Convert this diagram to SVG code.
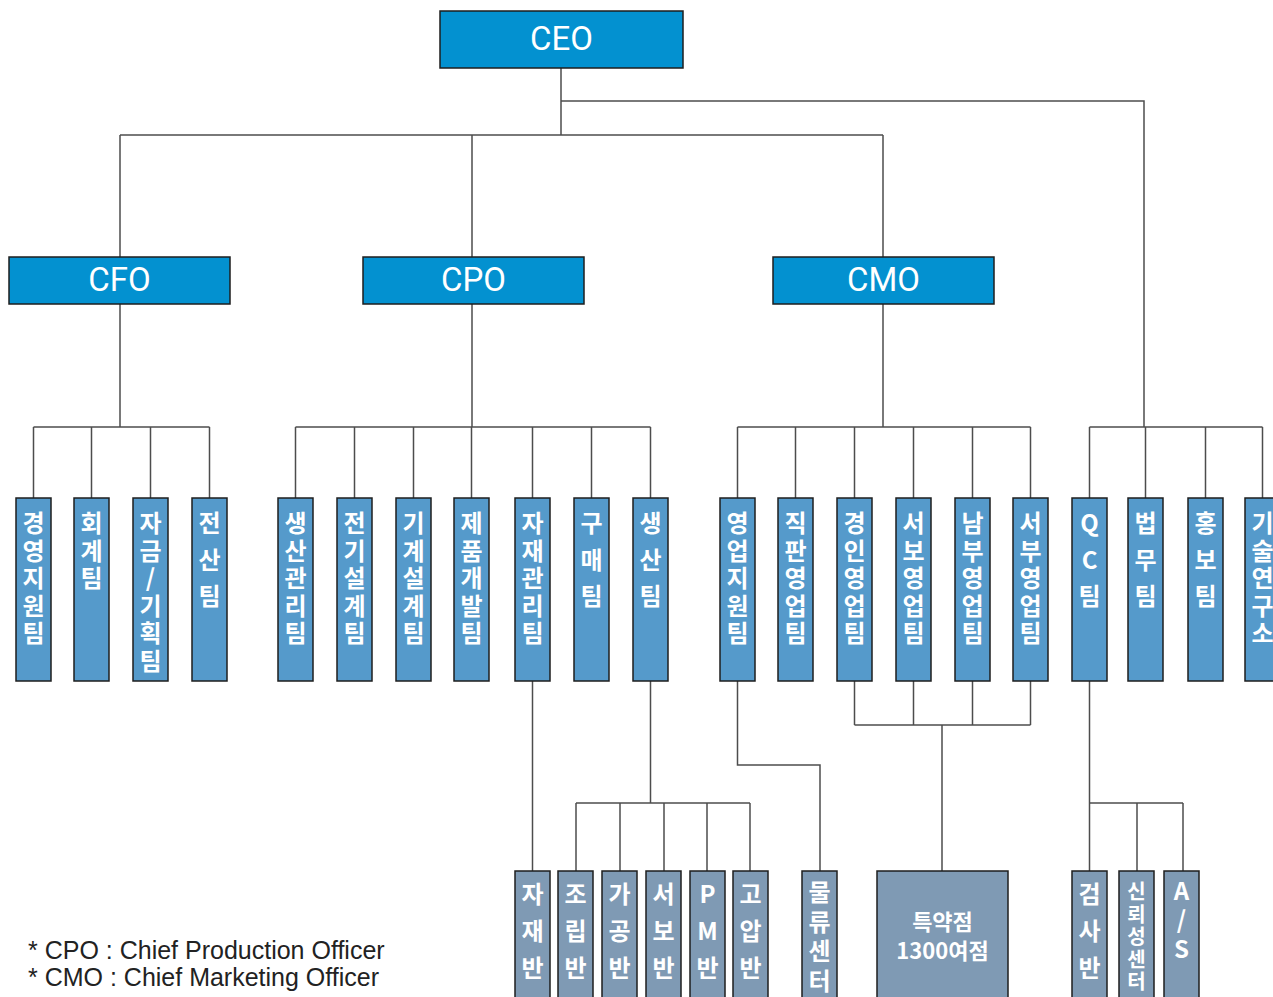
<svg xmlns="http://www.w3.org/2000/svg" width="1273" height="997" viewBox="0 0 1273 997">
<style>
.top{fill:#0391D0;stroke:#1e1e1e;stroke-width:1.5}
.team{fill:#559ACB;stroke:#1e1e1e;stroke-width:1.5}
.sub{fill:#7F9AB4;stroke:#1e1e1e;stroke-width:1.5}
.ht{font-family:Roboto,"Liberation Sans",sans-serif;font-size:33px;fill:#fff;text-anchor:middle}
.v{font-family:"Noto Sans CJK KR",sans-serif;font-weight:bold;font-size:24px;fill:#fff;text-anchor:middle}
.vs{font-family:"Noto Sans CJK KR",sans-serif;font-weight:bold;font-size:20px;fill:#fff;text-anchor:middle}
.sp{font-family:"Noto Sans CJK KR",sans-serif;font-weight:bold;font-size:22px;fill:#fff;text-anchor:middle}
.note{font-family:"Liberation Sans",Arial,sans-serif;font-size:25px;fill:#222}
#connectors path{fill:none;stroke:#4d4d4d;stroke-width:1.5}
</style>
<rect width="1273" height="997" fill="#fff"/>
<g id="connectors">
<path d="M561,68 V135 M561,101 H1144 V427 M120,135 H883 M120,135 V257 M472,135 V257 M883,135 V257"/>
<path d="M120,304 V427 M33.5,427 H209.5 M33.5,427 V498 M91.5,427 V498 M150.5,427 V498 M209.5,427 V498"/>
<path d="M472,304 V427 M295.5,427 H650.5 M295.5,427 V498 M354.5,427 V498 M413.5,427 V498 M471.5,427 V498 M532.5,427 V498 M591.5,427 V498 M650.5,427 V498"/>
<path d="M883,304 V427 M737.5,427 H1030.5 M737.5,427 V498 M795.5,427 V498 M854.5,427 V498 M913.5,427 V498 M972.5,427 V498 M1030.5,427 V498"/>
<path d="M1089.5,427 H1262.5 M1089.5,427 V498 M1145.5,427 V498 M1205.5,427 V498 M1262.5,427 V498"/>
<path d="M532.5,681 V871"/>
<path d="M650.5,681 V803 M576,803 H750 M576,803 V871 M620,803 V871 M664,803 V871 M707,803 V871 M750,803 V871"/>
<path d="M737.5,681 V765 H820 V871"/>
<path d="M854.5,681 V725 M913.5,681 V725 M972.5,681 V725 M1030.5,681 V725 M854.5,725 H1030.5 M942,725 V871"/>
<path d="M1089.5,681 V871 M1089.5,803 H1183 M1137,803 V871 M1183,803 V871"/>
</g>
<g id="ceo"><rect class="top" x="440" y="11" width="243" height="57"/><text class="ht" x="561.5" y="50">CEO</text></g>
<g id="cfo"><rect class="top" x="9" y="257" width="221" height="47"/><text class="ht" x="119.5" y="291">CFO</text></g>
<g id="cpo"><rect class="top" x="363" y="257" width="221" height="47"/><text class="ht" x="473.5" y="291">CPO</text></g>
<g id="cmo"><rect class="top" x="773" y="257" width="221" height="47"/><text class="ht" x="883.5" y="291">CMO</text></g>

<g id="t1"><rect class="team" x="16" y="498" width="35" height="183"/><text class="v" x="33.5 33.5 33.5 33.5 33.5" y="532 559.5 587 614.5 642">경영지원팀</text></g>
<g id="t2"><rect class="team" x="74" y="498" width="35" height="183"/><text class="v" x="91.5 91.5 91.5" y="532 559.5 587">회계팀</text></g>
<g id="t3"><rect class="team" x="133" y="498" width="35" height="183"/><text class="v" x="150.5 150.5 150.5 150.5 150.5 150.5" y="532 559.5 587 614.5 642 669.5">자금/기획팀</text></g>
<g id="t4"><rect class="team" x="192" y="498" width="35" height="183"/><text class="v" x="209.5 209.5 209.5" y="532 568.5 605">전산팀</text></g>
<g id="t5"><rect class="team" x="278" y="498" width="35" height="183"/><text class="v" x="295.5 295.5 295.5 295.5 295.5" y="532 559.5 587 614.5 642">생산관리팀</text></g>
<g id="t6"><rect class="team" x="337" y="498" width="35" height="183"/><text class="v" x="354.5 354.5 354.5 354.5 354.5" y="532 559.5 587 614.5 642">전기설계팀</text></g>
<g id="t7"><rect class="team" x="396" y="498" width="35" height="183"/><text class="v" x="413.5 413.5 413.5 413.5 413.5" y="532 559.5 587 614.5 642">기계설계팀</text></g>
<g id="t8"><rect class="team" x="454" y="498" width="35" height="183"/><text class="v" x="471.5 471.5 471.5 471.5 471.5" y="532 559.5 587 614.5 642">제품개발팀</text></g>
<g id="t9"><rect class="team" x="515" y="498" width="35" height="183"/><text class="v" x="532.5 532.5 532.5 532.5 532.5" y="532 559.5 587 614.5 642">자재관리팀</text></g>
<g id="t10"><rect class="team" x="574" y="498" width="35" height="183"/><text class="v" x="591.5 591.5 591.5" y="532 568.5 605">구매팀</text></g>
<g id="t11"><rect class="team" x="633" y="498" width="35" height="183"/><text class="v" x="650.5 650.5 650.5" y="532 568.5 605">생산팀</text></g>
<g id="t12"><rect class="team" x="720" y="498" width="35" height="183"/><text class="v" x="737.5 737.5 737.5 737.5 737.5" y="532 559.5 587 614.5 642">영업지원팀</text></g>
<g id="t13"><rect class="team" x="778" y="498" width="35" height="183"/><text class="v" x="795.5 795.5 795.5 795.5 795.5" y="532 559.5 587 614.5 642">직판영업팀</text></g>
<g id="t14"><rect class="team" x="837" y="498" width="35" height="183"/><text class="v" x="854.5 854.5 854.5 854.5 854.5" y="532 559.5 587 614.5 642">경인영업팀</text></g>
<g id="t15"><rect class="team" x="896" y="498" width="35" height="183"/><text class="v" x="913.5 913.5 913.5 913.5 913.5" y="532 559.5 587 614.5 642">서보영업팀</text></g>
<g id="t16"><rect class="team" x="955" y="498" width="35" height="183"/><text class="v" x="972.5 972.5 972.5 972.5 972.5" y="532 559.5 587 614.5 642">남부영업팀</text></g>
<g id="t17"><rect class="team" x="1013" y="498" width="35" height="183"/><text class="v" x="1030.5 1030.5 1030.5 1030.5 1030.5" y="532 559.5 587 614.5 642">서부영업팀</text></g>
<g id="t18"><rect class="team" x="1072" y="498" width="35" height="183"/><text class="v" x="1089.5 1089.5 1089.5" y="532 568.5 605">QC팀</text></g>
<g id="t19"><rect class="team" x="1128" y="498" width="35" height="183"/><text class="v" x="1145.5 1145.5 1145.5" y="532 568.5 605">법무팀</text></g>
<g id="t20"><rect class="team" x="1188" y="498" width="35" height="183"/><text class="v" x="1205.5 1205.5 1205.5" y="532 568.5 605">홍보팀</text></g>
<g id="t21"><rect class="team" x="1245" y="498" width="35" height="183"/><text class="v" x="1262.5 1262.5 1262.5 1262.5 1262.5" y="532 559.5 587 614.5 642">기술연구소</text></g>

<g id="b1"><rect class="sub" x="515" y="871" width="35" height="130"/><text class="v" x="532.5 532.5 532.5" y="903 940 977">자재반</text></g>
<g id="b2"><rect class="sub" x="558" y="871" width="35" height="130"/><text class="v" x="575.5 575.5 575.5" y="903 940 977">조립반</text></g>
<g id="b3"><rect class="sub" x="602" y="871" width="35" height="130"/><text class="v" x="619.5 619.5 619.5" y="903 940 977">가공반</text></g>
<g id="b4"><rect class="sub" x="646" y="871" width="35" height="130"/><text class="v" x="663.5 663.5 663.5" y="903 940 977">서보반</text></g>
<g id="b5"><rect class="sub" x="690" y="871" width="35" height="130"/><text class="v" x="707.5 707.5 707.5" y="903 940 977">PM반</text></g>
<g id="b6"><rect class="sub" x="733" y="871" width="35" height="130"/><text class="v" x="750.5 750.5 750.5" y="903 940 977">고압반</text></g>
<g id="b7"><rect class="sub" x="802" y="871" width="35" height="130"/><text class="v" x="819.5 819.5 819.5 819.5" y="901 930.5 960 989.5">물류센터</text></g>
<g id="b8"><rect class="sub" x="877" y="871" width="131" height="130"/><text class="sp" x="942.5" y="930">특약점</text><text class="sp" x="942.5" y="959">1300여점</text></g>
<g id="b9"><rect class="sub" x="1072" y="871" width="35" height="130"/><text class="v" x="1089.5 1089.5 1089.5" y="903 940 977">검사반</text></g>
<g id="b10"><rect class="sub" x="1119" y="871" width="35" height="130"/><text class="vs" x="1136.5 1136.5 1136.5 1136.5 1136.5" y="899 921.5 944 966.5 989">신뢰성센터</text></g>
<g id="b11"><rect class="sub" x="1164" y="871" width="35" height="130"/><text class="v" x="1181.5 1181.5 1181.5" y="900 929 958">A/S</text></g>

<g id="notes">
<text class="note" x="28" y="959">* CPO : Chief Production Officer</text>
<text class="note" x="28" y="986">* CMO : Chief Marketing Officer</text>
</g>
</svg>
